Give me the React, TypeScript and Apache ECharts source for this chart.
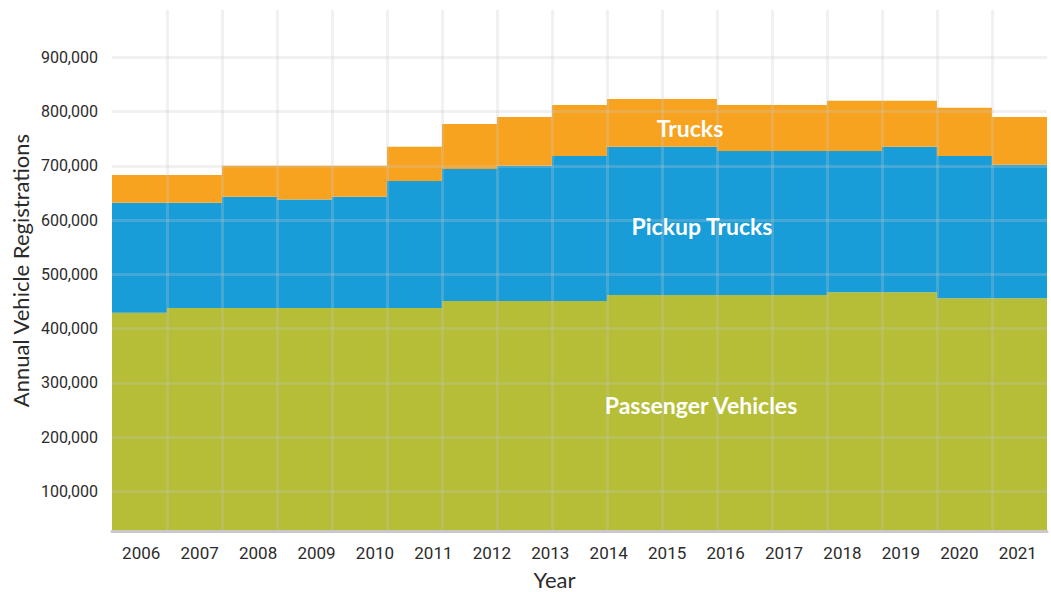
import React, { useEffect, useRef } from "react";
import * as echarts from "echarts";

// Year labels shown under the chart
const years = [
  "2006", "2007", "2008", "2009", "2010", "2011", "2012", "2013",
  "2014", "2015", "2016", "2017", "2018", "2019", "2020", "2021",
];

// The stepped areas change level on 17 equal slots (matching the vertical grid)
const stepSlots = [
  "s1", "s2", "s3", "s4", "s5", "s6", "s7", "s8", "s9",
  "s10", "s11", "s12", "s13", "s14", "s15", "s16", "s17",
];

const passengerVehicles = [
  429000, 438000, 438000, 438000, 438000, 438000, 451000, 451000, 451000,
  462000, 462000, 462000, 462000, 467000, 467000, 456000, 456000,
];
const pickupTrucks = [
  203000, 194000, 205000, 200000, 205000, 234000, 243000, 249000, 267000,
  273000, 273000, 265000, 265000, 260000, 268000, 262000, 246000,
];
const trucks = [
  51000, 51000, 57000, 62000, 57000, 63000, 83000, 90000, 94000,
  88000, 88000, 85000, 85000, 93000, 85000, 89000, 88000,
];

const seriesNames = ["Passenger Vehicles", "Pickup Trucks", "Trucks"];
const seriesColors = ["#b5be36", "#189dd9", "#f8a31f"];

const tickFont = "Roboto, 'Liberation Sans', sans-serif";
const titleFont = "Lato, 'Open Sans', sans-serif";
const gridColor = "rgba(200,200,200,0.25)";

export default function App() {
  const ref = useRef<HTMLDivElement>(null);

  useEffect(() => {
    if (!ref.current) return;
    const chart = echarts.init(ref.current, null, { renderer: "svg" });
    const values = [passengerVehicles, pickupTrucks, trucks];

    const innerLabel = (text: string, x: number, y: number) => ({
      type: "text",
      x,
      y,
      z: 10,
      style: {
        text,
        fill: "#ffffff",
        font: `bold 23px ${titleFont}`,
        textAlign: "center",
        textVerticalAlign: "middle",
      },
    });

    chart.setOption({
      animation: false,
      backgroundColor: "#ffffff",
      grid: {
        left: 112,
        top: 10,
        width: 935,
        height: 521,
        containLabel: false,
        outerBoundsMode: "none",
      },
      xAxis: [
        {
          type: "category",
          data: stepSlots,
          boundaryGap: true,
          position: "bottom",
          z: 5,
          axisLine: { show: false },
          axisTick: { show: false },
          axisLabel: { show: false },
          splitLine: {
            show: true,
            showMinLine: false,
            showMaxLine: false,
            lineStyle: { color: gridColor, width: 3 },
          },
        },
        {
          type: "category",
          data: years,
          boundaryGap: true,
          position: "bottom",
          z: 6,
          axisLine: { show: true, lineStyle: { color: "#c8c8c8", width: 3 } },
          axisTick: { show: false },
          splitLine: { show: false },
          axisLabel: {
            color: "#2b2b2b",
            fontFamily: tickFont,
            fontSize: 17,
            margin: 13,
            interval: 0,
          },
          name: "Year",
          nameLocation: "middle",
          nameGap: 37,
          nameMoveOverlap: false,
          nameTextStyle: {
            color: "#2b2b2b",
            fontFamily: titleFont,
            fontSize: 22,
            padding: [0, 50, 0, 0],
          },
        },
      ],
      yAxis: {
        type: "value",
        min: 27000,
        max: 987000,
        splitNumber: 10,
        z: 5,
        axisLine: { show: false },
        axisTick: { show: false },
        axisLabel: {
          color: "#2b2b2b",
          fontFamily: tickFont,
          fontSize: 16,
          margin: 14,
          showMinLabel: false,
          showMaxLabel: false,
          formatter: (v: number) => v.toLocaleString("en-US"),
        },
        splitLine: {
          show: true,
          showMinLine: false,
          showMaxLine: false,
          lineStyle: { color: gridColor, width: 3 },
        },
        name: "Annual Vehicle Registrations",
        nameLocation: "middle",
        nameGap: 81,
        nameMoveOverlap: false,
        nameTextStyle: { color: "#2b2b2b", fontFamily: titleFont, fontSize: 22 },
      },
      series: values.map((d, i) => ({
        name: seriesNames[i],
        type: "bar",
        stack: "total",
        xAxisIndex: 0,
        barCategoryGap: "0%",
        barGap: "0%",
        data: d,
        silent: true,
        itemStyle: { color: seriesColors[i], borderWidth: 0 },
        emphasis: { disabled: true },
      })),
      graphic: [
        innerLabel("Trucks", 690, 128),
        innerLabel("Pickup Trucks", 702, 226),
        innerLabel("Passenger Vehicles", 701, 405),
      ],
    });

    return () => chart.dispose();
  }, []);

  return (
    <div
      ref={ref}
      style={{ position: "fixed", left: 0, top: 0, width: 1051, height: 592 }}
    />
  );
}
